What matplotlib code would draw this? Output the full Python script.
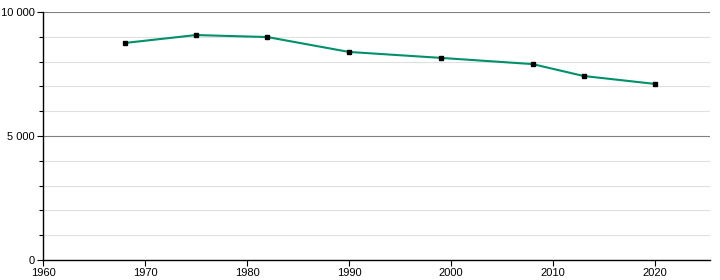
import matplotlib
matplotlib.use("Agg")
import matplotlib.pyplot as plt
from matplotlib.ticker import MultipleLocator, FuncFormatter

years = [1968, 1975, 1982, 1990, 1999, 2008, 2013, 2020]
population = [8750, 9070, 8990, 8390, 8150, 7900, 7420, 7100]
x_ticks = [1960, 1970, 1980, 1990, 2000, 2010, 2020]
y_ticks = [0, 5000, 10000]

plt.rcParams['font.family'] = ['Liberation Sans', 'DejaVu Sans']
fig = plt.figure(figsize=(7.2, 2.8), dpi=100)
ax = fig.add_axes([43/720, 20/280, 667/720, 248/280])
ax.set_xlim(1960, 2025.4)
ax.set_ylim(0, 10000)

for v in range(1000, 10000, 1000):
    if v % 5000:
        ax.axhline(v, color='#e0e0e0', lw=0.8, zorder=0)
for v in [5000, 10000]:
    ax.axhline(v, color='#808080', lw=0.8, zorder=0)

ax.plot(years, population, color='#00906a', lw=1.5, zorder=2)
ax.plot(years, population, 's', color='black', ms=3.5, zorder=3)

ax.set_xticks(x_ticks)
ax.set_yticks(y_ticks)
ax.yaxis.set_minor_locator(MultipleLocator(1000))
ax.yaxis.set_major_formatter(FuncFormatter(lambda v, p: f"{int(v):,}".replace(",", " ")))
ax.tick_params(axis='both', labelsize=8, length=4, width=0.8, pad=2)
ax.tick_params(axis='y', which='minor', length=3, width=0.8)
for s in ['top', 'right']:
    ax.spines[s].set_visible(False)
ax.spines['left'].set_linewidth(1)
ax.spines['bottom'].set_linewidth(1)

fig.savefig('out.png', dpi=100)
